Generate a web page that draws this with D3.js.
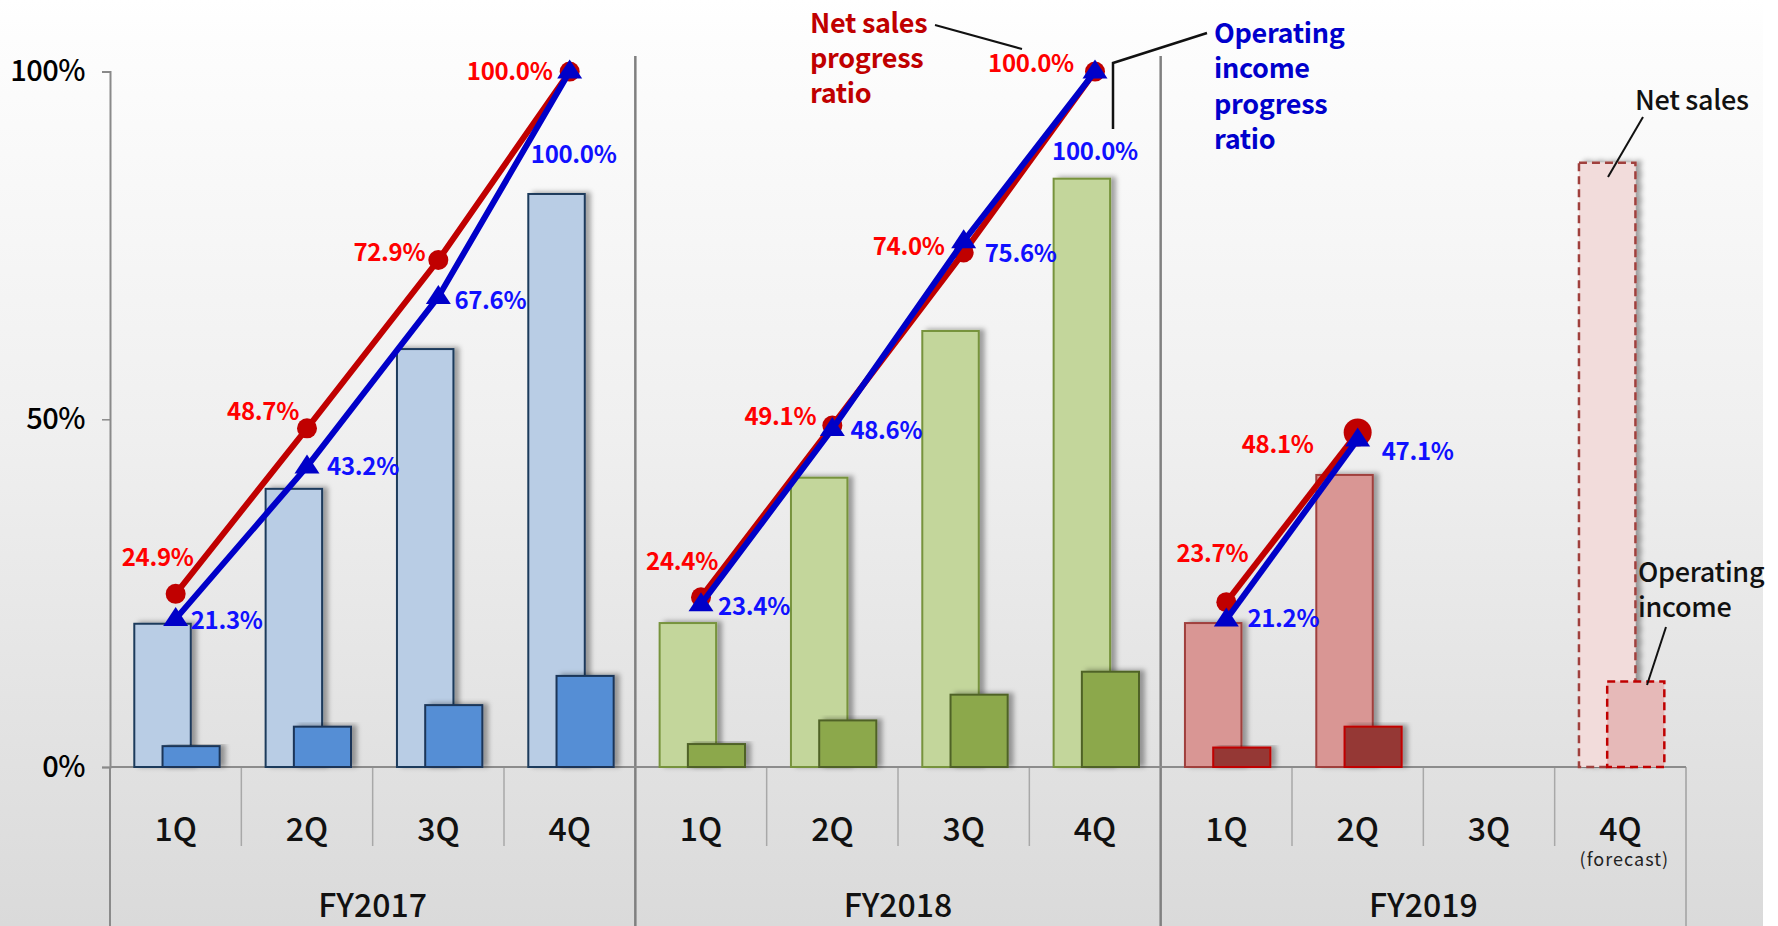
<!DOCTYPE html>
<html><head><meta charset="utf-8">
<script src="https://cdn.jsdelivr.net/npm/d3@7"></script>
<style>
html,body{margin:0;padding:0;background:#fff;}
svg{display:block;}
text{font-family:"Noto Sans CJK JP","Noto Sans",sans-serif;}
</style></head>
<body>
<svg id="chart" width="1778" height="926"></svg>
<script>
// ---------------- data ----------------
const years = ["FY2017", "FY2018", "FY2019"];
const quarters = ["1Q", "2Q", "3Q", "4Q"];
const yTicks = [0, 50, 100];
// bar heights as read against the % axis (null = no bar)
const netSalesBar = {
  FY2017: [20.6, 40.0, 60.1, 82.4],
  FY2018: [20.7, 41.6, 62.7, 84.6],
  FY2019: [20.7, 42.0, null, 86.9]
};
const opIncomeBar = {
  FY2017: [3.0, 5.8, 8.9, 13.1],
  FY2018: [3.3, 6.7, 10.4, 13.7],
  FY2019: [2.8, 5.8, null, 12.3]
};
// progress ratios (lines)
const netSalesRatio = {
  FY2017: [24.9, 48.7, 72.9, 100.0],
  FY2018: [24.4, 49.1, 74.0, 100.0],
  FY2019: [23.7, 48.1]
};
const opIncomeRatio = {
  FY2017: [21.3, 43.2, 67.6, 100.0],
  FY2018: [23.4, 48.6, 75.6, 100.0],
  FY2019: [21.2, 47.1]
};
const forecastYear = "FY2019";
const forecastQuarter = 3;

// ---------------- layout / style ----------------
const W = 1778, H = 926;
const svg = d3.select("#chart");
const defs = svg.append("defs");
const grad = defs.append("linearGradient").attr("id","bg").attr("x1",0).attr("y1",0).attr("x2",0).attr("y2",1);
[[0,"#ffffff"],[0.04,"#fdfdfd"],[0.45,"#f0f0f0"],[1,"#dadada"]].forEach(s=>grad.append("stop").attr("offset",s[0]).attr("stop-color",s[1]));
const sh = defs.append("filter").attr("id","shadow").attr("x","-20%").attr("y","-10%").attr("width","160%").attr("height","130%");
sh.append("feDropShadow").attr("dx",5).attr("dy",-1).attr("stdDeviation",2.5).attr("flood-color","#000").attr("flood-opacity",0.35);

svg.append("rect").attr("width",W).attr("height",H).attr("fill","#fff");
svg.append("rect").attr("width",1763).attr("height",H).attr("fill","url(#bg)");

const x0 = d3.scaleBand().domain(years).range([110, 1686]).padding(0);
const x1 = d3.scaleBand().domain(quarters).range([0, x0.bandwidth()]).padding(0);
const y = d3.scaleLinear().domain([0, 100]).range([767, 71.6]);
const bw = x1.bandwidth();
const qc = (yr, i) => x0(yr) + x1(quarters[i]) + bw / 2;

const colors = {
  FY2017: {ns:"#B9CDE5", nsS:"#1F3B5C", oi:"#558ED5", oiS:"#1A3558"},
  FY2018: {ns:"#C3D69B", nsS:"#77933C", oi:"#8CA84C", oiS:"#4F6228"},
  FY2019: {ns:"#D99694", nsS:"#A0403E", oi:"#953735", oiS:"#C00000"}
};
const fcColors = {ns:"#F2DCDB", nsS:"#A0403E", oi:"#E6B9B8", oiS:"#C00000"};

// separators & axes
const sepG = svg.append("g");
x0.domain().slice(1).forEach(yr => {
  sepG.append("line").attr("x1",x0(yr)).attr("x2",x0(yr)).attr("y1",56).attr("y2",H)
    .attr("stroke","#808080").attr("stroke-width",2.5);
});
sepG.append("line").attr("x1",110).attr("x2",110).attr("y1",y(0)).attr("y2",H).attr("stroke","#8a8a8a").attr("stroke-width",2);
sepG.append("line").attr("x1",1686).attr("x2",1686).attr("y1",y(0)).attr("y2",H).attr("stroke","#a0a0a0").attr("stroke-width",1.5);
years.forEach(yr => quarters.slice(1).forEach(q => {
  const xx = x0(yr) + x1(q);
  sepG.append("line").attr("x1",xx).attr("x2",xx).attr("y1",y(0)).attr("y2",846)
    .attr("stroke","#a8a8a8").attr("stroke-width",1.5);
}));

const yAxis = svg.append("g").attr("transform","translate(110,0)")
  .call(d3.axisLeft(y).tickValues(yTicks).tickFormat(d => d + "%").tickSize(8).tickPadding(17));
yAxis.select(".domain").attr("stroke","#8a8a8a").attr("stroke-width",2);
yAxis.selectAll(".tick line").attr("stroke","#8a8a8a").attr("stroke-width",1.5);
yAxis.selectAll(".tick text").attr("font-size",29).attr("fill","#000").attr("letter-spacing",-0.5)
  .attr("font-family",'"Noto Sans CJK JP",sans-serif').attr("font-weight",500);

svg.append("line").attr("x1",110).attr("x2",1686).attr("y1",y(0)).attr("y2",y(0))
  .attr("stroke","#8c8c8c").attr("stroke-width",2);

// x labels
years.forEach(yr => {
  quarters.forEach((q,i) => {
    svg.append("text").attr("x",qc(yr,i)).attr("y",829).attr("dy","0.36em")
      .attr("text-anchor","middle").attr("font-size",32).attr("font-weight",500).attr("fill","#111").text(q);
  });
  svg.append("text").attr("x",x0(yr)+x0.bandwidth()/2).attr("y",905).attr("dy","0.36em")
    .attr("text-anchor","middle").attr("font-size",32).attr("font-weight",500).attr("fill","#111").text(yr);
});
svg.append("text").attr("x",qc(forecastYear,forecastQuarter)+4).attr("y",860).attr("dy","0.36em")
  .attr("text-anchor","middle").attr("font-size",18).attr("letter-spacing",1).attr("fill","#222").text("(forecast)");

// bars
const barG = svg.append("g");
years.forEach(yr => {
  quarters.forEach((q,i) => {
    const fc = (yr === forecastYear && i === forecastQuarter);
    const c = fc ? fcColors : colors[yr];
    const bx = x0(yr) + x1(q);
    const ns = netSalesBar[yr][i], oi = opIncomeBar[yr][i];
    if (ns != null) {
      barG.append("rect").attr("x",bx+bw*0.185).attr("width",bw*0.43)
        .attr("y",y(ns)).attr("height",y(0)-y(ns))
        .attr("fill",c.ns).attr("stroke",c.nsS).attr("stroke-width",fc?2.5:2)
        .attr("stroke-dasharray",fc?"8,5":null).attr("filter","url(#shadow)");
    }
    if (oi != null) {
      barG.append("rect").attr("x",bx+bw*0.40).attr("width",bw*0.435)
        .attr("y",y(oi)).attr("height",y(0)-y(oi))
        .attr("fill",c.oi).attr("stroke",c.oiS).attr("stroke-width",fc?2.5:2)
        .attr("stroke-dasharray",fc?"8,5":null).attr("filter",fc?null:"url(#shadow)");
    }
  });
});

// lines
const red = "#C00000", blue = "#0000C8";
const lineGen = yr => d3.line().x((d,i)=>qc(yr,i)).y(d=>y(d));
const lineG = svg.append("g");
years.forEach(yr => {
  lineG.append("path").attr("d",lineGen(yr)(netSalesRatio[yr])).attr("fill","none")
    .attr("stroke",red).attr("stroke-width",6);
  netSalesRatio[yr].forEach((v,i) => {
    const big = (yr === "FY2019" && i === netSalesRatio[yr].length-1);
    lineG.append("circle").attr("cx",qc(yr,i)).attr("cy",y(v)).attr("r",big?14:10).attr("fill",red);
  });
});
const tri = "M0,-12L12.5,7L-12.5,7Z";
years.forEach(yr => {
  lineG.append("path").attr("d",lineGen(yr)(opIncomeRatio[yr])).attr("fill","none")
    .attr("stroke",blue).attr("stroke-width",6);
  opIncomeRatio[yr].forEach((v,i) => {
    lineG.append("path").attr("d",tri).attr("transform",`translate(${qc(yr,i)},${y(v)})`).attr("fill",blue);
  });
});

// data labels (offsets relative to marker)
const redOff = {
  FY2017: [[-18,-36],[-44,-17],[-49,-8],[-60,0]],
  FY2018: [[-19,-36],[-52,-9],[-55,-6],[-64,-8]],
  FY2019: [[-14,-49],[-80,12]]
};
const blueOff = {
  FY2017: [[51,1],[56,0],[52,3],[4,83]],
  FY2018: [[53,2],[54,1],[57,12],[0,80]],
  FY2019: [[57,-1],[60,12]]
};
const labG = svg.append("g").attr("font-size",24).attr("font-weight",700).attr("text-anchor","middle").attr("letter-spacing",-0.3);
years.forEach(yr => {
  netSalesRatio[yr].forEach((v,i) => {
    labG.append("text").attr("x",qc(yr,i)+redOff[yr][i][0]).attr("y",y(v)+redOff[yr][i][1]).attr("dy","0.36em")
      .attr("fill","#FF0000").text(v.toFixed(1)+"%");
  });
  opIncomeRatio[yr].forEach((v,i) => {
    labG.append("text").attr("x",qc(yr,i)+blueOff[yr][i][0]).attr("y",y(v)+blueOff[yr][i][1]).attr("dy","0.36em")
      .attr("fill","#1010FF").text(v.toFixed(1)+"%");
  });
});

// annotations
const ann = svg.append("g").attr("font-size",27).attr("font-weight",700).attr("letter-spacing",-0.3);
const multi = (lines, x, y0, step, color, weight) => {
  const t = ann.append("text").attr("x",x).attr("y",y0).attr("fill",color).attr("font-weight",weight);
  lines.forEach((s,k)=>t.append("tspan").attr("x",x).attr("y",y0+k*step).attr("dy","0.36em").text(s));
};
multi(["Net sales","progress","ratio"], 810, 23, 35, "#C00000", 700);
multi(["Operating","income","progress","ratio"], 1214, 33, 35.5, "#0000CC", 700);
multi(["Net sales"], 1635, 100, 35, "#111", 500);
multi(["Operating","income"], 1638, 572, 35, "#111", 500);
const lk = "#111";
svg.append("line").attr("x1",935).attr("y1",25).attr("x2",1022).attr("y2",49).attr("stroke",lk).attr("stroke-width",2);
svg.append("polyline").attr("points","1207,33 1113,63 1113,129").attr("fill","none").attr("stroke",lk).attr("stroke-width",2.5);
svg.append("line").attr("x1",1643).attr("y1",117).attr("x2",1608).attr("y2",177).attr("stroke",lk).attr("stroke-width",2);
svg.append("line").attr("x1",1666).attr("y1",627).attr("x2",1647).attr("y2",685).attr("stroke",lk).attr("stroke-width",2);
</script>
</body></html>
